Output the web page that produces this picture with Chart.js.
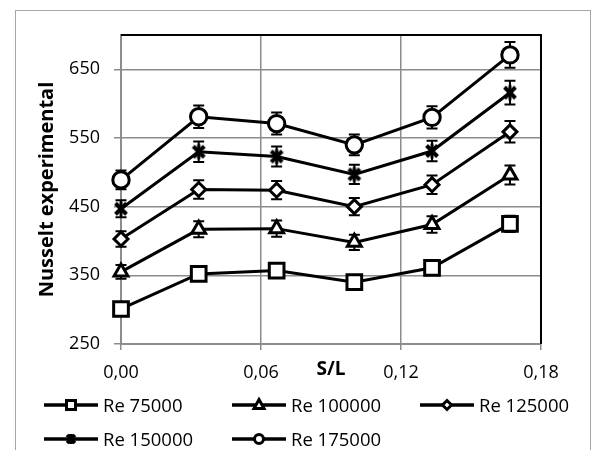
<!DOCTYPE html>
<html>
<head>
<meta charset="utf-8">
<script src="https://cdn.jsdelivr.net/npm/chart.js@4.4.1/dist/chart.umd.min.js"></script>
<style>
    html, body { margin: 0; padding: 0; background: #fff; }
    body { width: 594px; height: 450px; position: relative; overflow: hidden; font-family: "Open Sans", sans-serif; }
    #marco { position: absolute; left: 15px; top: 10px; width: 574px; height: 460px; border: 1px solid #a6a6a6; }
    #grafico { position: absolute; left: 0; top: 0; }
    .item { position: absolute; display: flex; align-items: center; height: 24px; line-height: 24px; font-size: 18.5px; color: #000; white-space: nowrap; }
    .item canvas { margin-right: 5px; }
</style>
</head>
<body>
<div id="marco"></div>
<canvas id="grafico" width="594" height="450"></canvas>
<div id="leyenda"></div>
<script>
// datos
const sL = [0, 0.0333, 0.0667, 0.1, 0.1333, 0.1667];
const re75000 = [301, 352, 357, 340, 361, 425];
const re100000 = [355, 417, 418, 398, 424, 496];
const re125000 = [403, 475, 474, 450, 482, 559];
const re150000 = [447, 530, 523, 497, 531, 616];
const re175000 = [489, 581, 571, 540, 580, 671];
const nombres = ['Re 75000', 'Re 100000', 'Re 125000', 'Re 150000', 'Re 175000'];
const xTicks = [0, 0.06, 0.12, 0.18];
const yTicks = [250, 350, 450, 550, 650];
const errorPct = 0.028;

const gris = '#8c8c8c';

// marcador tipo estrella de Excel (X con barra vertical)
function crearEstrella(tam, grosor) {
    const cv = document.createElement('canvas');
    cv.width = tam; cv.height = tam;
    const c = cv.getContext('2d');
    const m = tam / 2, d = tam / 2 - 3.5;
    c.strokeStyle = '#000';
    c.lineWidth = grosor;
    c.beginPath();
    c.moveTo(m - d, m - d); c.lineTo(m + d, m + d);
    c.moveTo(m + d, m - d); c.lineTo(m - d, m + d);
    c.stroke();
    c.lineWidth = 3;
    c.beginPath();
    c.moveTo(m, 1.5); c.lineTo(m, tam - 1.5);
    c.stroke();
    return cv;
}

const estilos = ['rect', 'triangle', 'rectRot', crearEstrella(18, 4), 'circle'];
const radios = [10.4, 8, 7, 9, 8.2];
const valores = [re75000, re100000, re125000, re150000, re175000];

const barrasError = {
    id: 'barrasError',
    beforeDatasetsDraw(chart) {
        const { ctx, chartArea: a, scales: { y } } = chart;
        ctx.save();
        ctx.strokeStyle = '#000';
        ctx.lineWidth = 2;
        ctx.beginPath();
        ctx.moveTo(a.left, a.top);
        ctx.lineTo(a.right, a.top);
        ctx.lineTo(a.right, a.bottom);
        ctx.stroke();
        chart.data.datasets.forEach((ds, i) => {
            const meta = chart.getDatasetMeta(i);
            meta.data.forEach((pt, j) => {
                const v = ds.data[j].y;
                const y1 = y.getPixelForValue(v * (1 + errorPct));
                const y2 = y.getPixelForValue(v * (1 - errorPct));
                ctx.beginPath();
                ctx.moveTo(pt.x, y1); ctx.lineTo(pt.x, y2);
                ctx.moveTo(pt.x - 5.5, y1); ctx.lineTo(pt.x + 5.5, y1);
                ctx.moveTo(pt.x - 5.5, y2); ctx.lineTo(pt.x + 5.5, y2);
                ctx.stroke();
            });
        });
        ctx.restore();
    }
};

Chart.defaults.font.family = '"Open Sans", sans-serif';
Chart.defaults.color = '#000';

new Chart(document.querySelector('#grafico'), {
    type: 'line',
    data: {
        datasets: valores.map((serie, i) => ({
            label: nombres[i],
            data: sL.map((x, j) => ({ x, y: serie[j] })),
            borderColor: '#000',
            borderWidth: 3,
            backgroundColor: '#fff',
            pointStyle: estilos[i],
            pointRadius: radios[i],
            pointBorderWidth: 3,
            pointBorderColor: '#000',
            pointBackgroundColor: '#fff',
            tension: 0,
            clip: false,
            order: 4 - i,
        })),
    },
    options: {
        responsive: false,
        animation: false,
        devicePixelRatio: 1,
        layout: { padding: { left: 0, top: 35, right: 53, bottom: 66 } },
        plugins: { legend: { display: false }, tooltip: { enabled: false } },
        scales: {
            x: {
                type: 'linear', min: 0, max: 0.18,
                afterBuildTicks: (s) => { s.ticks = xTicks.map((v) => ({ value: v })); },
                afterFit: (s) => { s.height = 40; },
                grid: { color: gris, lineWidth: 1.5, tickLength: 6 },
                border: { color: gris, width: 2 },
                ticks: {
                    padding: 12, maxRotation: 0, autoSkip: false,
                    font: { size: 18 },
                    callback: (v) => Number(v).toFixed(2).replace('.', ','),
                },
                title: {
                    display: true, text: 'S/L',
                    font: { size: 19, weight: 'bold' },
                    padding: { top: 0, bottom: 3 },
                },
            },
            y: {
                min: 250, max: 700,
                afterBuildTicks: (s) => { s.ticks = yTicks.map((v) => ({ value: v })); },
                afterFit: (s) => { s.width = 121; },
                grid: { color: gris, lineWidth: 1.5, tickLength: 7 },
                border: { color: gris, width: 2 },
                ticks: { padding: 14, font: { size: 18 } },
                title: {
                    display: true, text: 'Nusselt experimental',
                    font: { size: 20, weight: 'bold' },
                    padding: { top: 35, bottom: 0 },
                },
            },
        },
    },
    plugins: [barrasError],
});

// leyenda en dos filas, columnas alineadas como en Excel
function dibujarMuestra(cv, i) {
    const c = cv.getContext('2d');
    const x = 27, y = 10;
    c.strokeStyle = '#000';
    c.fillStyle = '#fff';
    c.lineWidth = 3.5;
    c.beginPath(); c.moveTo(0, y); c.lineTo(54, y); c.stroke();
    c.lineWidth = 3;
    c.beginPath();
    if (i === 0) c.rect(x - 4.5, y - 4.5, 9, 9);
    else if (i === 1) { c.moveTo(x, y - 5.5); c.lineTo(x + 5, y + 3.5); c.lineTo(x - 5, y + 3.5); c.closePath(); }
    else if (i === 2) { c.moveTo(x, y - 4.5); c.lineTo(x + 4.5, y); c.lineTo(x, y + 4.5); c.lineTo(x - 4.5, y); c.closePath(); }
    else if (i === 4) c.arc(x, y, 4.5, 0, Math.PI * 2);
    if (i === 3) {
        c.lineWidth = 3.5;
        c.moveTo(x - 4, y - 4); c.lineTo(x + 4, y + 4);
        c.moveTo(x + 4, y - 4); c.lineTo(x - 4, y + 4);
        c.moveTo(x, y - 5); c.lineTo(x, y + 5);
        c.stroke();
    } else {
        c.fill(); c.stroke();
    }
}

const leyenda = document.querySelector('#leyenda');
const columnas = [44, 232, 420];
const filas = [405, 439];
nombres.forEach((n, i) => {
    const item = document.createElement('div');
    item.className = 'item';
    item.style.left = columnas[i % 3] + 'px';
    item.style.top = (filas[Math.floor(i / 3)] - 12) + 'px';
    const cv = document.createElement('canvas');
    cv.width = 54; cv.height = 20;
    dibujarMuestra(cv, i);
    const txt = document.createElement('span');
    txt.textContent = n;
    item.appendChild(cv);
    item.appendChild(txt);
    leyenda.appendChild(item);
});
</script>
</body>
</html>
